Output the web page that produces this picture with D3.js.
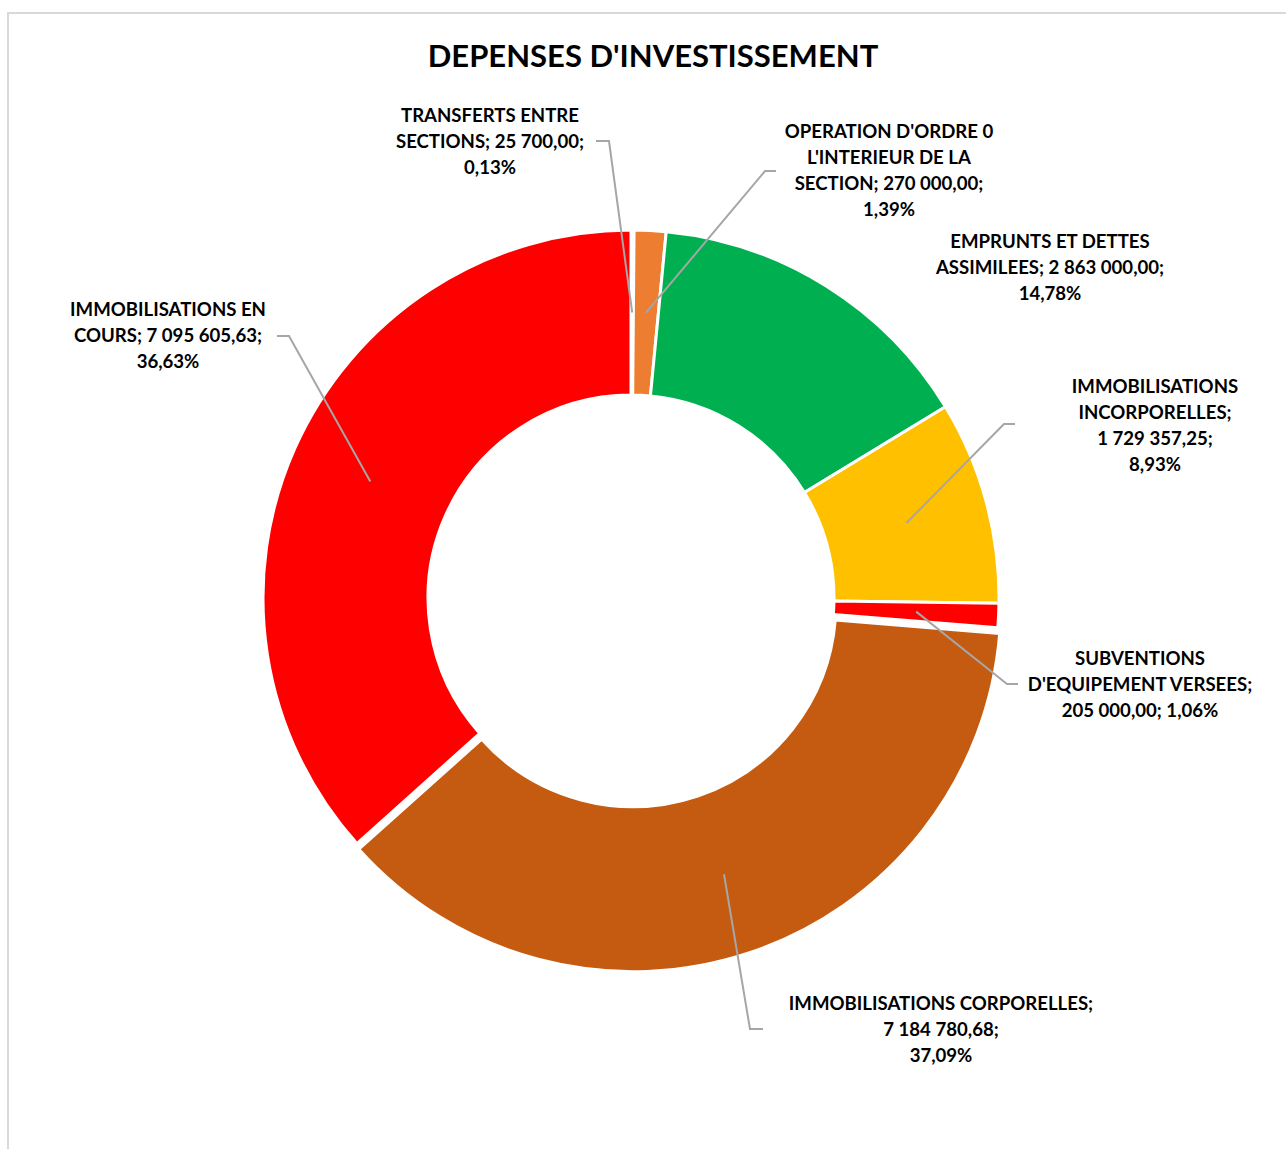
<!DOCTYPE html>
<html>
<head>
<meta charset="utf-8">
<script src="https://cdn.jsdelivr.net/npm/d3@7"></script>
<style>
  body { margin: 0; background: #fff; }
  text { font-family: Lato, "Open Sans", sans-serif; font-weight: bold; fill: #000; }
</style>
</head>
<body>
<script>
// chart data
var categories = [
  "TRANSFERTS ENTRE SECTIONS",
  "OPERATION D'ORDRE 0 L'INTERIEUR DE LA SECTION",
  "EMPRUNTS ET DETTES ASSIMILEES",
  "IMMOBILISATIONS INCORPORELLES",
  "SUBVENTIONS D'EQUIPEMENT VERSEES",
  "IMMOBILISATIONS CORPORELLES",
  "IMMOBILISATIONS EN COURS"
];
var values = [25700, 270000, 2863000, 1729357.25, 205000, 7184780.68, 7095605.63];
var colors = ["#A5A5A5", "#ED7D31", "#00B050", "#FFC000", "#FF0000", "#C55A11", "#FF0000"];

// label text, line by line
var labelLines = [
  ["TRANSFERTS ENTRE", "SECTIONS; 25 700,00;", "0,13%"],
  ["OPERATION D'ORDRE 0", "L'INTERIEUR DE LA", "SECTION; 270 000,00;", "1,39%"],
  ["EMPRUNTS ET DETTES", "ASSIMILEES; 2 863 000,00;", "14,78%"],
  ["IMMOBILISATIONS", "INCORPORELLES;", "1 729 357,25;", "8,93%"],
  ["SUBVENTIONS", "D'EQUIPEMENT VERSEES;", "205 000,00; 1,06%"],
  ["IMMOBILISATIONS CORPORELLES;", "7 184 780,68;", "37,09%"],
  ["IMMOBILISATIONS EN", "COURS; 7 095 605,63;", "36,63%"]
];

var width = 1286, height = 1149;
var cx = 631, cy = 598, outerR = 368, innerR = 203;

// label placement and leader elbows
var labelPos = [
  {x: 490, y: 116, tick: [[609, 141], [596, 141]]},
  {x: 889, y: 132, tick: [[765, 171], [776, 171]]},
  {x: 1050, y: 242, tick: null},
  {x: 1155, y: 387, tick: [[1004, 424], [1015, 424]]},
  {x: 1140, y: 659, tick: [[1007, 684], [1018, 684]]},
  {x: 941, y: 1004, tick: [[750, 1029], [763, 1029]]},
  {x: 168, y: 310, tick: [[289, 336], [277, 336]]}
];
var explode = [0, 0, 0, 0, 0, 6, 0];

var svg = d3.select("body").append("svg")
  .attr("width", width)
  .attr("height", height);

// chart frame (only top and left edges visible)
svg.append("rect")
  .attr("x", 8).attr("y", 13)
  .attr("width", 1400).attr("height", 1300)
  .attr("fill", "none")
  .attr("stroke", "#D9D9D9")
  .attr("stroke-width", 2);

svg.append("text")
  .attr("x", 653).attr("y", 67)
  .attr("text-anchor", "middle")
  .style("font-size", "31px")
  .text("DEPENSES D'INVESTISSEMENT");

var pie = d3.pie().sort(null).value(function(d){ return d; });
var arcs = pie(values);

var arc = d3.arc().innerRadius(innerR).outerRadius(outerR);

var g = svg.append("g").attr("transform", "translate(" + cx + "," + cy + ")");

function shift(d, i){
  var a = (d.startAngle + d.endAngle) / 2;
  return [explode[i] * Math.sin(a), -explode[i] * Math.cos(a)];
}

g.selectAll(".slice")
  .data(arcs)
  .enter()
  .append("path")
  .attr("class", "slice")
  .attr("d", arc)
  .attr("transform", function(d, i){ var s = shift(d, i); return "translate(" + s[0] + "," + s[1] + ")"; })
  .attr("fill", function(d, i){ return colors[i]; })
  .attr("stroke", "#fff")
  .attr("stroke-width", 3);

// leader lines
arcs.forEach(function(d, i){
  var p = labelPos[i];
  if (!p.tick) return;
  var c = arc.centroid(d), s = shift(d, i);
  var pts = [[cx + c[0] + s[0], cy + c[1] + s[1]], p.tick[0], p.tick[1]];
  svg.append("path")
    .attr("d", d3.line()(pts))
    .attr("fill", "none")
    .attr("stroke", "#A6A6A6")
    .attr("stroke-width", 2);
});

// labels
labelLines.forEach(function(lines, i){
  var p = labelPos[i];
  var t = svg.append("text")
    .attr("text-anchor", "middle")
    .style("font-size", "18.6px");
  lines.forEach(function(l, j){
    t.append("tspan")
      .attr("x", p.x)
      .attr("y", p.y + 6 + j * 26)
      .text(l);
  });
});
</script>
</body>
</html>
